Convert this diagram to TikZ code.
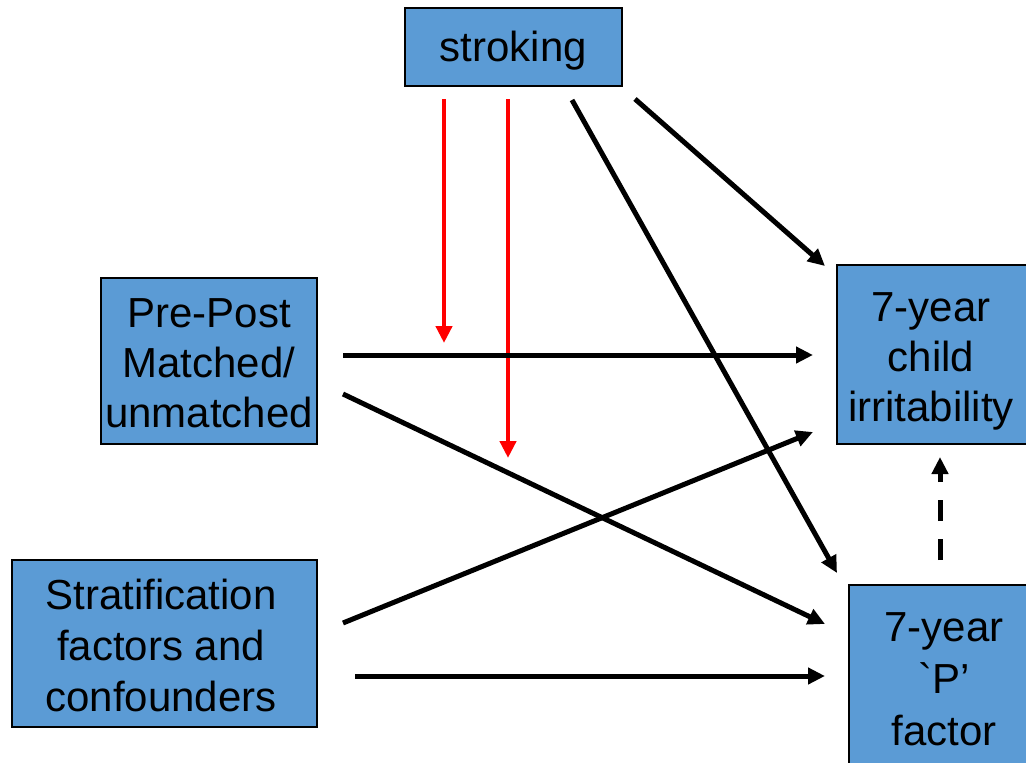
\documentclass[tikz,border=0pt]{standalone}
\usepackage{fontspec}
\setmainfont{Liberation Sans}
\newfontfamily\plainsans[Ligatures=TeXOff]{Liberation Sans}
\usetikzlibrary{arrows.meta}

\definecolor{boxblue}{HTML}{5B9BD5}
\definecolor{arrred}{HTML}{FF0000}

\tikzset{
  box/.style={draw=black, line width=1.5pt, fill=boxblue, inner sep=0pt},
  boxtext/.style={align=center, inner sep=0pt, font=\fontsize{42}{51}\selectfont},
  link/.style={line width=5pt, -{Triangle[length=17pt,width=16pt]}},
  redlink/.style={link, draw=arrred, line width=4.5pt},
  dashlink/.style={link, dash pattern=on 21pt off 18pt}
}

\begin{document}
\begin{tikzpicture}[x=1pt,y=-1pt]
  \useasboundingbox (0,0) rectangle (1026,763);

  % boxes
  \node[box, minimum width=217pt, minimum height=78pt] (stroking) at (513.5,47) {};
  \node[box, minimum width=216pt, minimum height=166pt] (prepost) at (209,361) {};
  \node[box, minimum width=305pt, minimum height=167pt] (strat) at (164.5,643.5) {};
  \node[box, minimum width=193pt, minimum height=179pt] (irrit) at (933.5,354.5) {};
  \node[box, minimum width=190pt, minimum height=184pt] (pfac) at (944,677) {};

  % box labels
  \node[boxtext] (stroking-t) at (513.5,51) {stroking};
  \node[boxtext] (prepost-t) at (209,363) {Pre-Post\\[-1pt]Matched/\\[-1pt]unmatched};
  \node[boxtext] (strat-t) at (161,645.5) {Stratification\\factors and\\confounders};
  \node[boxtext] (irrit-t) at (931,361.5) {7-year\\[-1pt]child\\[-1pt]irritability};
  \node[boxtext] (pfac-t) at (944,679) {7-year\\[1pt]{\plainsans`}P’\\[1pt]factor};

  % free ends of the connectors
  \coordinate (r1a) at (444,99);   \coordinate (r1b) at (444,343);
  \coordinate (r2a) at (508,99);   \coordinate (r2b) at (508,458);
  \coordinate (s1a) at (635,99);   \coordinate (s1b) at (825,266);
  \coordinate (s2a) at (572,100);  \coordinate (s2b) at (837,573);
  \coordinate (p1a) at (343,355);  \coordinate (p1b) at (813,355);
  \coordinate (p2a) at (343,394);  \coordinate (p2b) at (825,624);
  \coordinate (c1a) at (343,623);  \coordinate (c1b) at (813,432);
  \coordinate (c2a) at (355,676);  \coordinate (c2b) at (825,676);
  \coordinate (da) at (940,560);   \coordinate (db) at (940,457);

  % moderating effects of stroking
  \draw[redlink] (r1a) -- (r1b);
  \draw[redlink] (r2a) -- (r2b);

  % direct effects
  \draw[link] (s1a) -- (s1b);
  \draw[link] (s2a) -- (s2b);
  \draw[link] (p1a) -- (p1b);
  \draw[link] (p2a) -- (p2b);
  \draw[link] (c1a) -- (c1b);
  \draw[link] (c2a) -- (c2b);

  % P factor to irritability
  \draw[dashlink] (da) -- (db);
\end{tikzpicture}
\end{document}
